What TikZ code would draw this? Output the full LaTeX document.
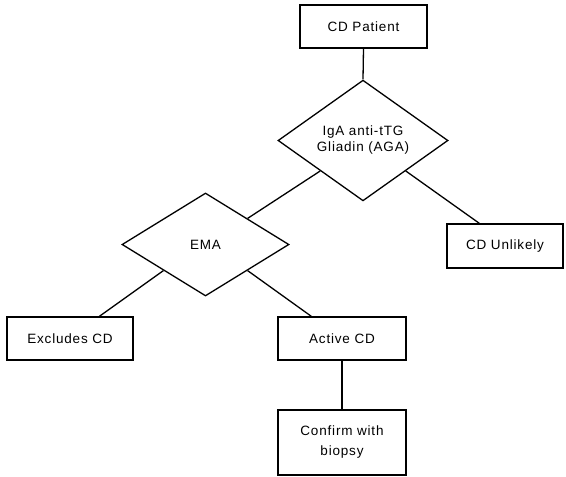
\documentclass[tikz,border=0pt]{standalone}
\usepackage{fontspec}
\setmainfont{Liberation Sans}[LetterSpace=6]
\usetikzlibrary{shapes.geometric,calc}
\begin{document}
\begin{tikzpicture}[x=1pt,y=-1pt,
  box/.style={draw,line width=1.3pt,inner sep=0pt,font=\fontsize{13.5}{16}\selectfont,align=center},
  dia/.style={draw,diamond,line width=1.3pt,inner sep=0pt,font=\fontsize{13.5}{16}\selectfont,align=center},
  conn/.style={line width=1.3pt}]
\useasboundingbox (0,0) rectangle (566,477);
\node[box,minimum width=127pt,minimum height=43pt] (cdp) at (363.5,26.5) {CD Patient};
\node[dia,minimum width=170pt,minimum height=103pt] (iga) at (363,140.5) {IgA anti-tTG\\Gliadin (AGA)};
\node[dia,minimum width=167pt,minimum height=103pt] (ema) at (205.5,244.5) {EMA};
\node[box,minimum width=116pt,minimum height=44pt] (cdu) at (505,246) {CD Unlikely};
\node[box,minimum width=126pt,minimum height=43pt] (exc) at (70,338.5) {Excludes CD};
\node[box,minimum width=128pt,minimum height=43pt] (act) at (342,338.5) {Active CD};
\node[box,minimum width=128pt,minimum height=65pt,font=\fontsize{13.5}{20}\selectfont] (conf) at (342,442.5) {Confirm with\\biopsy};
\draw[conn] (cdp.south) -- (iga.north);
\draw[conn] (iga.south west) -- (ema.north east);
\draw[conn] (iga.south east) -- ([xshift=33pt]cdu.north west);
\draw[conn] (ema.south west) -- ([xshift=93pt]exc.north west);
\draw[conn] (ema.south east) -- ([xshift=34pt]act.north west);
\draw[conn] (act.south) -- (conf.north);
\end{tikzpicture}
\end{document}
